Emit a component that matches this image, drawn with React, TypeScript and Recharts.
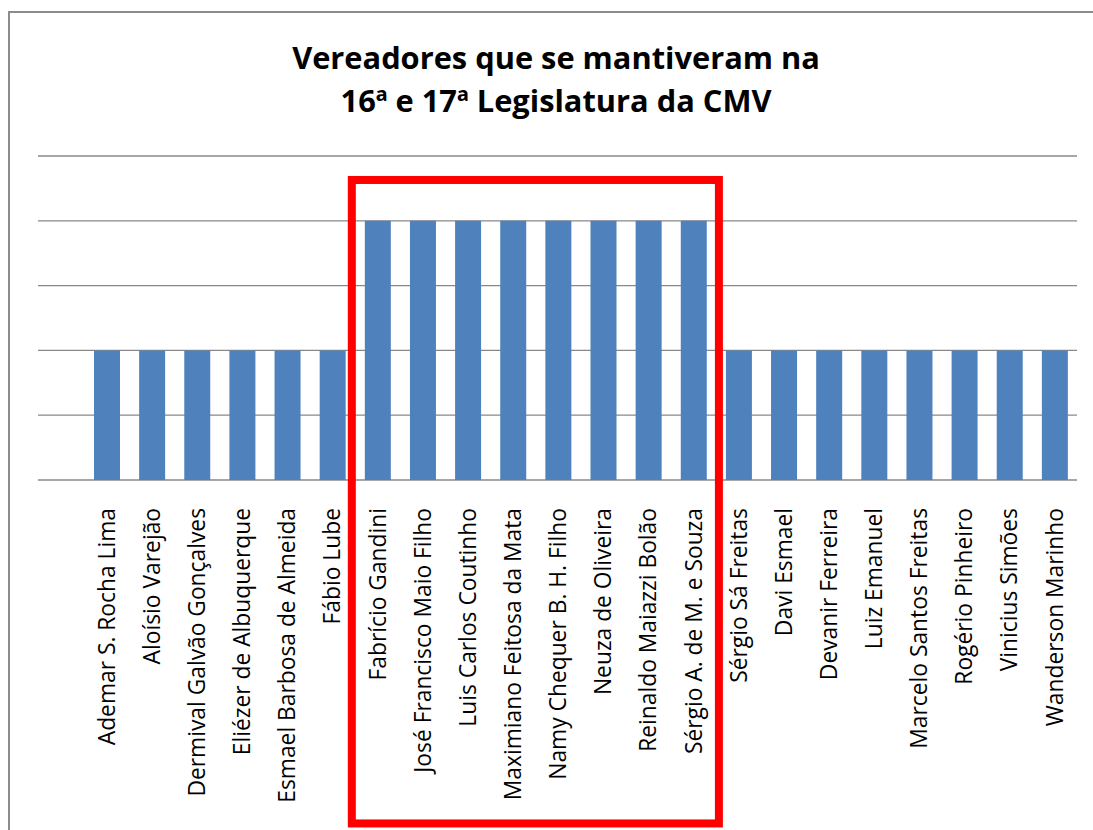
import React from "react";
import { BarChart, Bar, XAxis, YAxis, CartesianGrid, ReferenceArea } from "recharts";

const names: string[] = [
  "Ademar S. Rocha Lima",
  "Aloísio Varejão",
  "Dermival Galvão Gonçalves",
  "Eliézer de Albuquerque",
  "Esmael Barbosa de Almeida",
  "Fábio Lube",
  "Fabrício Gandini",
  "José Francisco Maio Filho",
  "Luis Carlos Coutinho",
  "Maximiano Feitosa da Mata",
  "Namy Chequer B. H. Filho",
  "Neuza de Oliveira",
  "Reinaldo Maiazzi Bolão",
  "Sérgio A. de M. e Souza",
  "Sérgio Sá Freitas",
  "Davi Esmael",
  "Devanir Ferreira",
  "Luiz Emanuel",
  "Marcelo Santos Freitas",
  "Rogério Pinheiro",
  "Vinicius Simões",
  "Wanderson Marinho",
];

const values: number[] = [2, 2, 2, 2, 2, 2, 4, 4, 4, 4, 4, 4, 4, 4, 2, 2, 2, 2, 2, 2, 2, 2];

const yTicks: number[] = [0, 1, 2, 3, 4, 5];

const titleLines: string[] = ["Vereadores que se mantiveram na", "16ª e 17ª Legislatura da CMV"];

const highlightStart = "Fabrício Gandini";
const highlightEnd = "Sérgio A. de M. e Souza";

const data = names.map((name, i) => ({ name, value: values[i] }));

const FONT = "'Open Sans', sans-serif";

const Tick = (props: any) => {
  const { x, y, payload } = props;
  const ty = y + 20;
  return (
    <text
      x={x}
      y={ty}
      transform={`rotate(-90, ${x}, ${ty})`}
      textAnchor="end"
      dy="0.36em"
      fontFamily={FONT}
      fontSize={22.8}
      fill="#000"
    >
      {payload.value}
    </text>
  );
};

const HighlightBox = (props: any) => {
  const { x, y, width, height } = props;
  const pad = 3;
  return (
    <rect
      x={x - pad}
      y={y}
      width={width + pad * 2}
      height={height}
      fill="none"
      stroke="#FF0000"
      strokeWidth={8}
    />
  );
};

export default function App() {
  return (
    <div
      style={{
        position: "absolute",
        left: 0,
        top: 0,
        width: 1093,
        height: 830,
        overflow: "hidden",
        background: "#fff",
      }}
    >
      <div
        style={{
          position: "absolute",
          left: 8,
          top: 11,
          width: 1200,
          height: 1000,
          border: "2px solid #8c8c8c",
          boxSizing: "border-box",
        }}
      />
      <div
        style={{
          position: "absolute",
          left: 0,
          top: 36,
          width: 1112,
          textAlign: "center",
          fontFamily: FONT,
          fontWeight: 700,
          fontSize: 30.8,
          lineHeight: "43px",
          color: "#000",
        }}
      >
        {titleLines.map((t) => (
          <div key={t}>{t}</div>
        ))}
      </div>
      <div style={{ position: "absolute", left: 0, top: 0 }}>
        <BarChart
          width={1093}
          height={830}
          data={data}
          margin={{ top: 156, right: 16, bottom: 0, left: 38 }}
        >
          <CartesianGrid vertical={false} stroke="#888888" strokeWidth={1.3} />
          <XAxis
            dataKey="name"
            axisLine={false}
            tickLine={false}
            interval={0}
            padding={{ left: 46, right: 0 }}
            tick={<Tick />}
            height={350}
          />
          <YAxis hide domain={[0, 5]} ticks={yTicks} />
          <Bar dataKey="value" fill="#4F81BD" barSize={26} isAnimationActive={false} />
          <ReferenceArea
            x1={highlightStart}
            x2={highlightEnd}
            y1={-5.3}
            y2={4.63}
            ifOverflow="visible"
            shape={<HighlightBox />}
          />
        </BarChart>
      </div>
    </div>
  );
}
